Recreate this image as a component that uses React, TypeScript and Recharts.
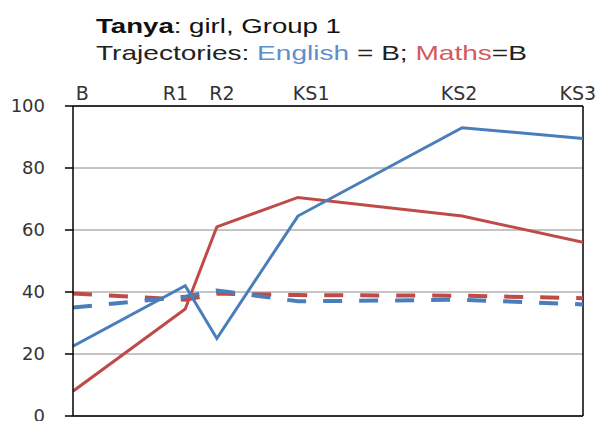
import React from "react";
import { LineChart, Line, XAxis, YAxis, CartesianGrid, ReferenceLine } from "recharts";

// x positions of assessment points (0 = B, 100 = KS3)
const points = ["B", "R1", "R2", "KS1", "KS2", "KS3"];
const pointX = [0, 22, 28.2, 44.1, 76.3, 100];

// top label positions (same scale) and labels
const labelX = [1.8, 20.1, 29.2, 46.7, 75.7, 99];
const labelText = ["B", "R1", "R2", "KS1", "KS2", "KS3"];

const englishActual = [22.5, 42, 25, 64.5, 93, 89.5];
const mathsActual = [8, 34.5, 61, 70.5, 64.5, 56];
const englishTarget = [35, 38.5, 40.5, 37, 37.5, 36];
const mathsTarget = [39.5, 37.5, 39.5, 39, 38.8, 38];

const yTicks = [0, 20, 40, 60, 80, 100];

const toSeries = (vals: number[]) => vals.map((v, i) => ({ x: pointX[i], name: points[i], v }));

const BLUE = "#4A7EBB";
const RED = "#BE4B48";

export default function App() {
  return (
    <div style={{ position: "absolute", left: 0, top: 0, width: 600, height: 421, background: "#fff" }}>
      <LineChart width={600} height={421} margin={{ top: 76, right: 17, bottom: 5, left: 0 }}>
        <CartesianGrid horizontal vertical={false} stroke="#8a8a8a" strokeWidth={1} />
        <XAxis
          xAxisId="top"
          orientation="top"
          type="number"
          dataKey="x"
          domain={[0, 100]}
          ticks={labelX}
          tickFormatter={(v: number) => labelText[labelX.indexOf(v)] ?? ""}
          axisLine={false}
          tickLine={false}
          tickSize={0}
          tickMargin={6}
          height={30}
          interval={0}
          allowDataOverflow
          tick={{ fontSize: 19, fill: "#333", fontFamily: "DejaVu Sans" }}
        />
        <YAxis
          type="number"
          domain={[0, 100]}
          ticks={yTicks}
          width={73}
          axisLine={{ stroke: "#000", strokeWidth: 1.5 }}
          tickLine={{ stroke: "#000", strokeWidth: 1.5 }}
          tickSize={8}
          tickMargin={20}
          interval={0}
          tick={{ fontSize: 18, fill: "#333", fontFamily: "DejaVu Sans" }}
        />
        <ReferenceLine xAxisId="top" y={100} stroke="#000" strokeWidth={1.5} />
        <ReferenceLine xAxisId="top" y={0} stroke="#000" strokeWidth={1.5} />
        <ReferenceLine xAxisId="top" x={100} stroke="#000" strokeWidth={1.5} />
        <Line xAxisId="top" data={toSeries(mathsTarget)} dataKey="v" type="linear" stroke={RED} strokeWidth={4} strokeDasharray="19 17" dot={false} isAnimationActive={false} />
        <Line xAxisId="top" data={toSeries(englishTarget)} dataKey="v" type="linear" stroke={BLUE} strokeWidth={4} strokeDasharray="19 17" dot={false} isAnimationActive={false} />
        <Line xAxisId="top" data={toSeries(mathsActual)} dataKey="v" type="linear" stroke={RED} strokeWidth={3} dot={false} isAnimationActive={false} />
        <Line xAxisId="top" data={toSeries(englishActual)} dataKey="v" type="linear" stroke={BLUE} strokeWidth={3} dot={false} isAnimationActive={false} />
      </LineChart>
      <svg width={600} height={80} style={{ position: "absolute", left: 0, top: 0 }}>
        <text x={96} y={33} fontFamily="Liberation Sans" fontSize={21} fill="#111" textLength={245} lengthAdjust="spacingAndGlyphs">
          <tspan fontWeight="bold">Tanya</tspan>
          <tspan>: girl, Group 1</tspan>
        </text>
        <text x={96} y={60} fontFamily="Liberation Sans" fontSize={21} fill="#222" textLength={431} lengthAdjust="spacingAndGlyphs">
          <tspan>Trajectories: </tspan>
          <tspan fill="#5F8FCB">English</tspan>
          <tspan> = B; </tspan>
          <tspan fill="#D45A60">Maths</tspan>
          <tspan>=B</tspan>
        </text>
      </svg>
    </div>
  );
}
